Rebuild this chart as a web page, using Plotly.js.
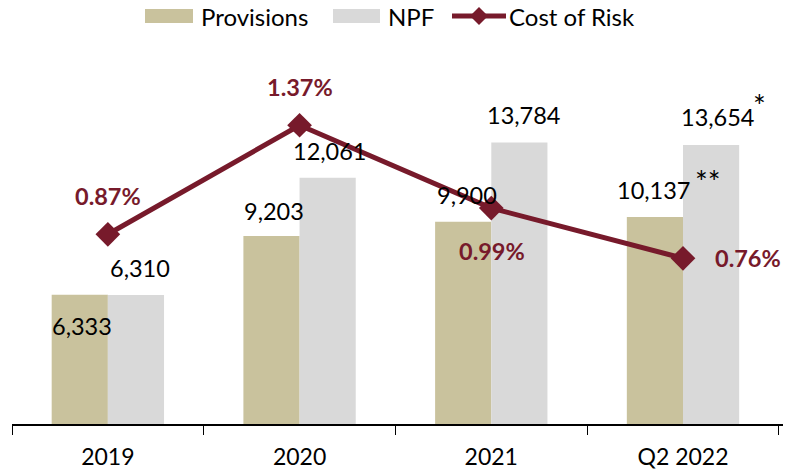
<!DOCTYPE html>
<html>
<head>
<meta charset="utf-8">
<script src="https://cdn.plot.ly/plotly-3.0.1.min.js"></script>
<style>html,body{margin:0;padding:0;background:#fff}#chart{width:788px;height:472px}</style>
</head>
<body>
<div id="chart"></div>
<script>
const categories = ["2019", "2020", "2021", "Q2 2022"];
const provisions = [6333, 9203, 9900, 10137];
const npf = [6310, 12061, 13784, 13654];
const costOfRisk = [0.87, 1.37, 0.99, 0.76];
const provisionLabels = ["6,333", "9,203", "9,900", "10,137"];
const npfLabels = ["6,310", "12,061", "13,784", "13,654"];
const corLabels = ["0.87%", "1.37%", "0.99%", "0.76%"];
const seriesNames = ["Provisions", "NPF", "Cost of Risk"];

const FONT = "Lato, 'Open Sans', sans-serif";
const RED = "#771a2b";
const TAN = "#c9c29d";
const GREY = "#d9d9d9";

const traces = [
  {type: "bar", name: seriesNames[0], x: categories, y: provisions, marker: {color: TAN}, hoverinfo: "skip", showlegend: false},
  {type: "bar", name: seriesNames[1], x: categories, y: npf, marker: {color: GREY}, hoverinfo: "skip", showlegend: false},
  {type: "scatter", mode: "lines+markers", name: seriesNames[2], x: categories, y: costOfRisk, yaxis: "y2",
   line: {color: RED, width: 5}, marker: {symbol: "diamond", size: 19, color: RED}, hoverinfo: "skip", showlegend: false}
];

const ann = [];
const provOff = [[-26, -31], [-26, 25], [-24, 27], [-30, 27]];
const npfOff = [[32, 27], [30, 27], [32, 27], [34, 28]];
categories.forEach((c, i) => {
  ann.push({x: i, y: provisions[i], xref: "x", yref: "y", text: provisionLabels[i], showarrow: false,
    xshift: provOff[i][0], yshift: provOff[i][1], font: {family: FONT, size: 23.5, color: "#000"}});
  ann.push({x: i, y: npf[i], xref: "x", yref: "y", text: npfLabels[i], showarrow: false,
    xshift: npfOff[i][0], yshift: npfOff[i][1], font: {family: FONT, size: 23.5, color: "#000"}});
});
const corOff = [[0, 38], [0, 38], [1, -43], [65, 0]];
categories.forEach((c, i) => {
  ann.push({x: i, y: costOfRisk[i], xref: "x", yref: "y2", text: "<b>" + corLabels[i] + "</b>", showarrow: false,
    xshift: corOff[i][0], yshift: corOff[i][1], font: {family: FONT, size: 23.5, color: RED}});
});
ann.push({x: 3, y: provisions[3], xref: "x", yref: "y", text: "**", showarrow: false,
  xshift: 25, yshift: 36, font: {family: FONT, size: 30, color: "#000"}});
ann.push({x: 3, y: npf[3], xref: "x", yref: "y", text: "*", showarrow: false,
  xshift: 76, yshift: 40, font: {family: FONT, size: 30, color: "#000"}});

// Legend drawn manually (wide swatches like the reference)
const px = v => (v - 12) / 771;
const py = v => (424 - v) / 384;
const legY = py(16);
const shapes = [
  {type: "rect", xref: "paper", yref: "paper", x0: px(145), x1: px(193), y0: py(23), y1: py(9), fillcolor: TAN, line: {width: 0}},
  {type: "rect", xref: "paper", yref: "paper", x0: px(333), x1: px(380), y0: py(23), y1: py(9), fillcolor: GREY, line: {width: 0}},
  {type: "line", xref: "paper", yref: "paper", x0: px(452), x1: px(506), y0: legY, y1: legY, line: {color: RED, width: 5}},
  {type: "path", xref: "paper", yref: "paper", fillcolor: RED, line: {width: 0},
   path: `M ${px(470)},${legY} L ${px(479)},${py(7)} L ${px(488)},${legY} L ${px(479)},${py(25)} Z`}
];
const legX = [199, 386, 507];
seriesNames.forEach((n, i) => {
  ann.push({xref: "paper", yref: "paper", x: px(legX[i]), y: legY, xanchor: "left", yanchor: "middle",
    text: n, showarrow: false, font: {family: FONT, size: 24, color: "#000"}});
});

const layout = {
  width: 788, height: 472,
  margin: {l: 12, r: 5, t: 40, b: 48},
  paper_bgcolor: "#fff", plot_bgcolor: "#fff",
  barmode: "group", bargap: 0.414, bargroupgap: 0,
  font: {family: FONT, size: 20, color: "#000"},
  showlegend: false,
  xaxis: {type: "category", tickson: "boundaries", ticks: "outside", ticklen: 9, tickcolor: "#000",
    showline: true, linecolor: "#000", linewidth: 1.5, showgrid: false, zeroline: false,
    automargin: false, ticklabelstandoff: 12,
    tickfont: {family: FONT, size: 23, color: "#000"}},
  yaxis: {range: [0, 18800], visible: false, showgrid: false, zeroline: false, automargin: false},
  yaxis2: {range: [0, 1.761], overlaying: "y", side: "right", visible: false, showgrid: false, zeroline: false, automargin: false},
  shapes: shapes,
  annotations: ann
};

Plotly.newPlot("chart", traces, layout, {displayModeBar: false, staticPlot: true});
</script>
</body>
</html>
